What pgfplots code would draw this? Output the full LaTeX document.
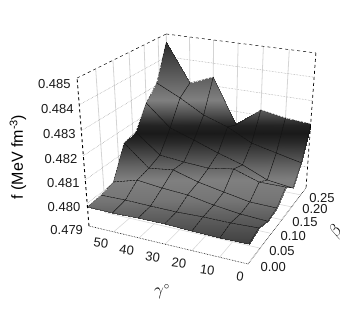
\documentclass[border=0pt]{standalone}
\usepackage{fontspec}
\setmainfont{Liberation Sans}
\usepackage{pgfplots}
\usepackage{pgfplotstable}
\pgfplotsset{compat=1.18}
\pgfplotstableread{
g b f
60 0.28 0.48465
50 0.28 0.48297
40 0.28 0.48339
30 0.28 0.48138
20 0.28 0.48225
10 0.28 0.48207
0 0.28 0.48198
60 0.24 0.48310
50 0.24 0.48259
40 0.24 0.48199
30 0.24 0.48163
20 0.24 0.48109
10 0.24 0.48084
0 0.24 0.48060
60 0.20 0.48250
50 0.20 0.48156
40 0.20 0.48120
30 0.20 0.48081
20 0.20 0.48048
10 0.20 0.48001
0 0.20 0.47987
60 0.16 0.48153
50 0.16 0.48069
40 0.16 0.48058
30 0.16 0.48052
20 0.16 0.48070
10 0.16 0.48034
0 0.16 0.48035
60 0.12 0.48141
50 0.12 0.48049
40 0.12 0.48063
30 0.12 0.48031
20 0.12 0.48010
10 0.12 0.47990
0 0.12 0.47988
60 0.08 0.48006
50 0.08 0.48037
40 0.08 0.48025
30 0.08 0.48018
20 0.08 0.47998
10 0.08 0.47984
0 0.08 0.47978
60 0.04 0.47991
50 0.04 0.47993
40 0.04 0.47991
30 0.04 0.47990
20 0.04 0.47994
10 0.04 0.47994
0 0.04 0.47999
60 0.00 0.47984
50 0.00 0.47983
40 0.00 0.47986
30 0.00 0.47987
20 0.00 0.47983
10 0.00 0.47981
0 0.00 0.47983
}\surfdata
\tikzset{
  declare function={
    dn(\g,\b,\f)=1+0.0885*\g/60+0.212*\b/0.28-0.1045*(\f-0.479)/0.006;
    sx(\g,\b,\f)=248+(-173.1*\g/60+70.3*\b/0.28+4.9*(\f-0.479)/0.006)/dn(\g,\b,\f);
    sy(\g,\b,\f)=57+(41.4*\g/60+92.1*\b/0.28+141.6*(\f-0.479)/0.006)/dn(\g,\b,\f);
  },
}
\pgfplotsset{
  /pgfplots/table/proj/.style={
    x expr={sx(\thisrow{g},\thisrow{b},\thisrow{f})},
    y expr={sy(\thisrow{g},\thisrow{b},\thisrow{f})},
    z expr={\thisrow{f}},
  },
}
\newcommand\seg[7]{\addplot3[#1] table[proj,row sep=\\]{g b f\\ #2 #3 #4\\ #5 #6 #7\\};}
\newcommand\tl[3]{\node[font=\fontsize{13}{14}\selectfont,text=black!90,inner sep=0pt,rotate=#3] at (axis cs:#1) {#2};}
\begin{document}
\begin{tikzpicture}
\begin{axis}[
  scale only axis, width=354pt, height=321pt,
  xmin=0, xmax=354, ymin=0, ymax=321, zmin=0.479, zmax=0.485,
  view={0}{90}, hide axis, clip=false,
  colormap={band}{
    gray(0pt)=(0.17); gray(42pt)=(0.17); gray(63pt)=(0.29); gray(100pt)=(0.50);
    gray(115pt)=(0.29); gray(125pt)=(0.14); gray(133pt)=(0.10); gray(142pt)=(0.16); gray(150pt)=(0.24); gray(167pt)=(0.40);
    gray(180pt)=(0.50); gray(200pt)=(0.46); gray(215pt)=(0.38); gray(244pt)=(0.25); gray(321pt)=(0.25)
  },
  point meta min=0, point meta max=321,
]
\path (axis cs:0,0) rectangle (axis cs:354,321);
% floor grid
\pgfplotsinvokeforeach{10,20,30,40,50}{\seg{no markers,solid,black!15,line width=.6pt}{#1}{0}{0.479}{#1}{0.28}{0.479}}
\pgfplotsinvokeforeach{0.05,0.10,0.15,0.20,0.25}{\seg{no markers,solid,black!15,line width=.6pt}{60}{#1}{0.479}{0}{#1}{0.479}}
% wall verticals
\pgfplotsinvokeforeach{0.05,0.10,0.15,0.20,0.25}{\seg{no markers,solid,black!17,line width=.8pt}{60}{#1}{0.479}{60}{#1}{0.485}}
\pgfplotsinvokeforeach{10,20,30,40,50}{\seg{no markers,solid,black!17,line width=.8pt}{#1}{0.28}{0.479}{#1}{0.28}{0.485}}
% wall horizontals
\pgfplotsinvokeforeach{0.480,0.481,0.482,0.483,0.484}{
  \seg{no markers,densely dotted,black!40,line width=.5pt}{60}{0}{#1}{60}{0.28}{#1}
  \seg{no markers,densely dotted,black!40,line width=.5pt}{60}{0.28}{#1}{0}{0.28}{#1}
}
\seg{no markers,solid,black!25,line width=.6pt}{60}{0.28}{0.479}{60}{0.28}{0.485}
% surface
\addplot3[surf, shader=interp, mesh/rows=8, mesh/cols=7, z buffer=none, no markers, point meta=explicit]
  table[proj, meta expr={321-sy(\thisrow{g},\thisrow{b},\thisrow{f})}] {\surfdata};
\addplot3[mesh, mesh/rows=8, mesh/cols=7, z buffer=none, no markers, line width=.3pt, dash pattern=on 2.4pt off .8pt, point meta=explicit,
  colormap={blk}{gray(0pt)=(0.08); gray(1pt)=(0.08)}]
  table[proj, meta expr={0}] {\surfdata};
% frame
\seg{no markers,dashed,black,line width=.9pt}{60}{0}{0.479}{60}{0}{0.485}
\seg{no markers,dashed,black,line width=.5pt}{60}{0}{0.485}{60}{0.28}{0.485}
\seg{no markers,dashed,black,line width=.5pt}{60}{0.28}{0.485}{0}{0.28}{0.485}
\seg{no markers,dashed,black,line width=.7pt}{0}{0.28}{0.485}{0}{0.28}{0.479}
\seg{no markers,densely dotted,black,line width=.6pt}{60}{0}{0.479}{0}{0}{0.479}
\seg{no markers,densely dotted,black,line width=.6pt}{0}{0}{0.479}{0}{0.28}{0.479}
% tick labels
\tl{54.3,237}{0.485}{0}
\tl{57.3,211.7}{0.484}{0}
\tl{59.3,186.7}{0.483}{0}
\tl{61,161.7}{0.482}{0}
\tl{63.3,137.7}{0.481}{0}
\tl{64,113.7}{0.480}{0}
\tl{66.7,91}{0.479}{0}
\tl{101,77.7}{50}{-8}
\tl{126.7,71}{40}{-8}
\tl{152.7,64.3}{30}{-8}
\tl{179,57.7}{20}{-8}
\tl{207.3,51}{10}{-8}
\tl{240,44.3}{0}{-8}
\tl{273.3,54.3}{0.00}{0}
\tl{282,70.3}{0.05}{0}
\tl{293.3,85}{0.10}{0}
\tl{305,98.7}{0.15}{0}
\tl{315,111.7}{0.20}{0}
\tl{322,123.3}{0.25}{0}
\node[font=\fontsize{16}{18}\selectfont,rotate=90,inner sep=0pt] at (axis cs:18,164) {f (MeV fm\raisebox{5.5pt}{\fontsize{11}{12}\selectfont -3})};
\node[font=\fontsize{16}{18}\selectfont] at (axis cs:162,29) {$\gamma^{\circ}$};
\node[font=\fontsize{16}{18}\selectfont,rotate=55] at (axis cs:336,89) {$\beta$};
\end{axis}
\end{tikzpicture}
\end{document}
